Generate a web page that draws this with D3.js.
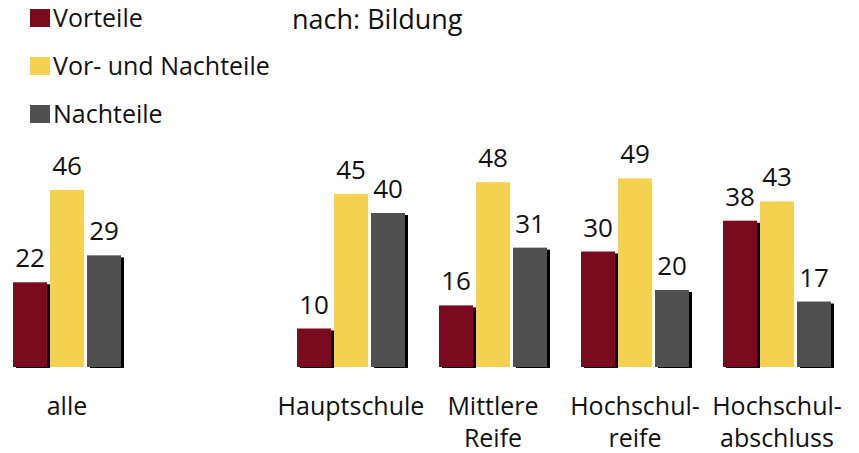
<!DOCTYPE html>
<html>
<head>
<meta charset="utf-8">
<title>Vorteile / Nachteile nach Bildung</title>
<style type="text/css">
    body {
        margin: 0;
        background: #ffffff;
    }
    text {
        font-family: "Open Sans", "Noto Sans", sans-serif;
        fill: #111111;
    }
</style>
</head>
<body>
<div id="chart"></div>

<script src="https://cdn.jsdelivr.net/npm/d3@7"></script>
<script>
    // data
    var groups = ["alle", "Hauptschule", "Mittlere Reife", "Hochschulreife", "Hochschulabschluss"];
    var groupLabels = [["alle"], ["Hauptschule"], ["Mittlere", "Reife"], ["Hochschul-", "reife"], ["Hochschul-", "abschluss"]];
    var seriesNames = ["Vorteile", "Vor- und Nachteile", "Nachteile"];
    var vorteile = [22, 10, 16, 30, 38];
    var beides = [46, 45, 48, 49, 43];
    var nachteile = [29, 40, 31, 20, 17];
    var subtitle = "nach: Bildung";

    var colors = ["#7a0a1e", "#f4d24f", "#505050"];
    var shadowed = [true, false, true];

    var width = 859, height = 453;
    var baseline = 367;

    var svg = d3.select("#chart").append("svg")
        .attr("width", width)
        .attr("height", height);

    //  an empty slot sits between "alle" and the education groups
    var slots = [groups[0], "_gap"].concat(groups.slice(1));

    var x = d3.scaleBand()
        .domain(slots)
        .range([-4, 848])
        .padding(0);

    var inner = d3.scaleBand()
        .domain(seriesNames)
        .range([0, 108])
        .paddingInner(3 / 37)
        .paddingOuter(0);

    var y = d3.scaleLinear()
        .domain([0, 50])
        .range([baseline, baseline - 192.5]);

    var rows = groups.map(function (g, i) {
        return {
            group: g,
            lines: groupLabels[i],
            values: [vorteile[i], beides[i], nachteile[i]]
        };
    });

    var groupSel = svg.append("g").attr("class", "bars")
        .selectAll("g")
        .data(rows)
        .enter().append("g")
            .attr("transform", d => "translate(" + (x(d.group) + x.bandwidth() / 2 - 54) + ",0)");

    var bars = groupSel.selectAll("g.bar")
        .data(d => d.values.map((v, k) => ({ series: seriesNames[k], k: k, value: v })))
        .enter().append("g")
            .attr("class", "bar");

    //  black drop shadow on the right edge of red and grey bars
    bars.filter(d => shadowed[d.k]).append("rect")
        .attr("x", d => inner(d.series) + 3)
        .attr("y", d => y(d.value) + 2)
        .attr("width", inner.bandwidth())
        .attr("height", d => baseline + 1 - y(d.value) - 2)
        .attr("fill", "#000000");

    bars.append("rect")
        .attr("x", d => inner(d.series))
        .attr("y", d => y(d.value))
        .attr("width", inner.bandwidth())
        .attr("height", d => baseline - y(d.value))
        .attr("fill", d => colors[d.k]);

    bars.append("text")
        .attr("x", d => inner(d.series) + inner.bandwidth() / 2)
        .attr("y", d => y(d.value) - 15)
        .attr("text-anchor", "middle")
        .style("font-size", "26px")
        .text(d => d.value);

    //  category labels, one or two lines
    var labels = svg.append("g").attr("class", "labels")
        .selectAll("text")
        .data(rows)
        .enter().append("text")
            .attr("x", d => x(d.group) + x.bandwidth() / 2)
            .attr("y", 415)
            .attr("text-anchor", "middle")
            .style("font-size", "25px");

    labels.selectAll("tspan")
        .data(d => d.lines)
        .enter().append("tspan")
            .attr("x", function () { return d3.select(this.parentNode).attr("x"); })
            .attr("dy", (d, i) => i === 0 ? 0 : 32)
            .text(d => d);

    //  legend
    var legend = svg.append("g").attr("class", "legend")
        .selectAll("g")
        .data(seriesNames)
        .enter().append("g")
            .attr("transform", (d, i) => "translate(0," + (27 + i * 48) + ")");

    legend.append("rect")
        .attr("x", 30)
        .attr("y", -18)
        .attr("width", 20)
        .attr("height", 18)
        .attr("fill", (d, i) => colors[i]);

    legend.append("text")
        .attr("x", 53)
        .attr("y", 0)
        .style("font-size", "25px")
        .text(d => d);

    svg.append("text")
        .attr("x", 292)
        .attr("y", 29)
        .style("font-size", "27px")
        .text(subtitle);
</script>
</body>
</html>
